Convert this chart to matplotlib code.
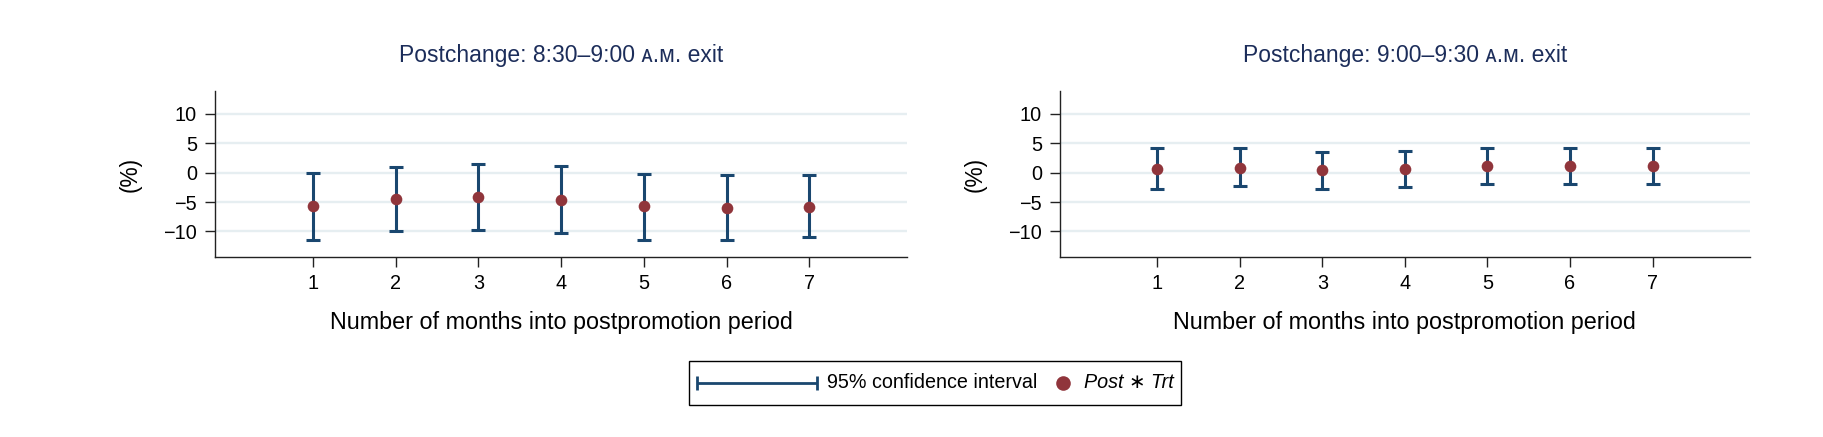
import matplotlib
matplotlib.use("Agg")
import matplotlib.pyplot as plt
from matplotlib.lines import Line2D
from matplotlib.offsetbox import (AnchoredOffsetbox, DrawingArea, HPacker,
                                  TextArea)

plt.rcParams['font.family'] = ['Liberation Sans', 'DejaVu Sans']

# data
months = [1, 2, 3, 4, 5, 6, 7]
titles = ["Postchange: 8:30\u20139:00 \u1d00.\u1d0d. exit",
          "Postchange: 9:00\u20139:30 \u1d00.\u1d0d. exit"]

est_830 = [-5.7, -4.4, -4.2, -4.7, -5.7, -6.0, -5.8]
lo_830 = [-11.5, -10.0, -9.7, -10.2, -11.4, -11.4, -10.9]
hi_830 = [0.0, 0.9, 1.4, 1.1, -0.2, -0.4, -0.4]

est_900 = [0.6, 0.8, 0.45, 0.6, 1.1, 1.1, 1.1]
lo_900 = [-2.8, -2.2, -2.8, -2.4, -2.0, -2.0, -2.0]
hi_900 = [4.2, 4.2, 3.5, 3.7, 4.2, 4.2, 4.2]

yticks = [-10, -5, 0, 5, 10]
legend_labels = ["95% confidence interval", "Post \u2217 Trt"]

NAVY = '#1a476f'
MAROON = '#90353b'
GRID = '#e6eef1'
TITLE_C = '#1c2d5a'

fig = plt.figure(figsize=(18.24, 4.37), dpi=100)
ax1 = fig.add_axes([0.1179, 0.4112, 0.3794, 0.3806])
ax2 = fig.add_axes([0.5811, 0.4112, 0.3783, 0.3806])

panels = [(ax1, est_830, lo_830, hi_830), (ax2, est_900, lo_900, hi_900)]
for i, (ax, est, lo, hi) in enumerate(panels):
    yerr = [[e - l for e, l in zip(est, lo)], [h - e for e, h in zip(est, hi)]]
    ax.errorbar(months, est, yerr=yerr, fmt='none', ecolor=NAVY,
                elinewidth=2.2, capsize=4.8, capthick=2.2, zorder=3)
    ax.plot(months, est, 'o', color=MAROON, markersize=8.4,
            markeredgewidth=0, zorder=4)

    ax.set_xlim(-0.18, 8.18)
    ax.set_ylim(-14.4, 13.9)
    ax.set_xticks(months)
    ax.set_yticks(yticks)
    ax.set_yticklabels([str(t).replace('-', '\u2212') for t in yticks])
    ax.grid(axis='y', color=GRID, lw=1.7, zorder=0)
    ax.set_axisbelow(True)
    for s in ['top', 'right']:
        ax.spines[s].set_visible(False)
    for s in ['left', 'bottom']:
        ax.spines[s].set_color('#222222')
        ax.spines[s].set_linewidth(1.0)
    ax.tick_params(axis='both', length=7, width=1.0, color='#222222',
                   labelsize=14.3, pad=5)
    ax.tick_params(axis='y', pad=6)

    ax.text(0.5, 1.216, titles[i], transform=ax.transAxes, ha='center',
            va='center', fontsize=16.5, color=TITLE_C)
    ax.set_xlabel("Number of months into postpromotion period",
                  fontsize=16.8, va='center')
    ax.xaxis.set_label_coords(0.5, -0.389)
    ax.set_ylabel("(%)", fontsize=16.4, va='center')
    ax.yaxis.set_label_coords(-0.123, 0.5)

# legend built by hand: long capped line key, round marker key
ci_key = DrawingArea(88, 21, 0, 0)
kw = dict(color=NAVY, lw=2.0, solid_capstyle='butt')
ci_key.add_artist(Line2D([1, 87], [10.5, 10.5], **kw))
ci_key.add_artist(Line2D([1, 1], [5.8, 15.2], **kw))
ci_key.add_artist(Line2D([87, 87], [5.8, 15.2], **kw))

pt_key = DrawingArea(22, 21, 0, 0)
pt_key.add_artist(Line2D([13], [10.5], marker='o', color=MAROON,
                         markersize=10.5, markeredgewidth=0))

txt_ci = TextArea(legend_labels[0], textprops=dict(fontsize=14.2))
txt_pt = TextArea(legend_labels[1],
                  textprops=dict(fontsize=14.2, fontstyle='italic'))

row = HPacker(children=[ci_key, txt_ci, pt_key, txt_pt], align='center',
              pad=0, sep=6)
box = AnchoredOffsetbox(loc='center', child=row, pad=0.5, borderpad=0,
                        bbox_to_anchor=(0.5126, 0.1236),
                        bbox_transform=fig.transFigure, frameon=True)
box.patch.set_edgecolor('black')
box.patch.set_linewidth(1.0)
box.patch.set_boxstyle('square', pad=0)
fig.add_artist(box)

fig.savefig("out.png", dpi=100)
